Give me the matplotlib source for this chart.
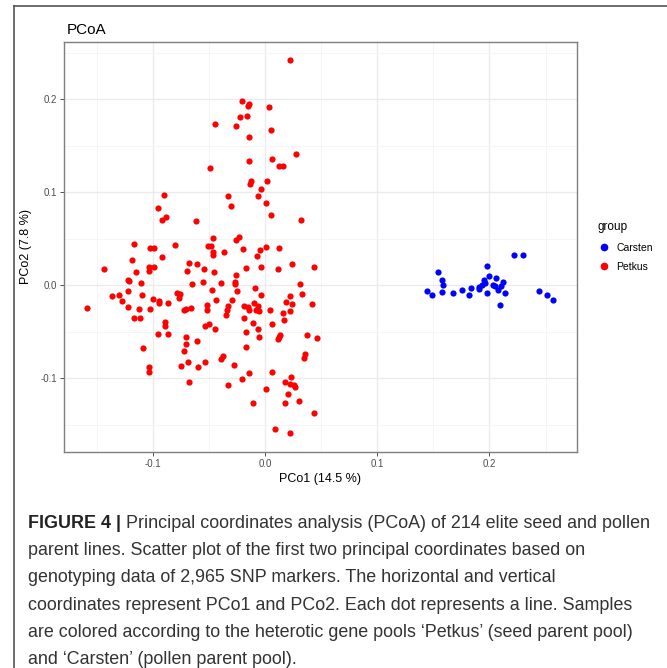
import numpy as np
import matplotlib.pyplot as plt
from matplotlib.lines import Line2D

plt.rcParams['font.family'] = ['Liberation Sans', 'DejaVu Sans']

# Координаты (PCo1, PCo2)
carsten_x = [0.1440, 0.1490, 0.1543, 0.1579, 0.1585, 0.1579, 0.1672, 0.1752, 0.1814, 0.1832,
             0.1904, 0.1909, 0.1933, 0.1951, 0.1957, 0.1975, 0.1993, 0.1980, 0.2028, 0.2046,
             0.2057, 0.2075, 0.2090, 0.2104, 0.2122, 0.2140, 0.2217, 0.2295, 0.2440, 0.2511,
             0.2562]
carsten_y = [-0.0058, -0.0108, 0.0140, 0.0057, 0.0000, -0.0069, -0.0083, -0.0051, -0.0108, -0.0032,
             -0.0043, -0.0015, 0.0003, 0.0057, 0.0022, 0.0208, 0.0103, -0.0081, 0.0003, -0.0008,
             0.0075, -0.0051, -0.0212, -0.0008, 0.0039, -0.0086, 0.0322, 0.0322, -0.0065, -0.0101,
             -0.0161]

petkus_x = [0.0223, -0.0202, -0.0139, -0.0148, 0.0036, -0.0226, -0.0163, -0.0442, -0.0261, 0.0056,
            -0.0145, 0.0273, 0.0059, -0.0139, -0.0493, 0.0128, 0.0157, -0.0125, 0.0018, -0.0137,
            -0.0036, -0.0899, -0.0329, -0.0062, -0.0306, 0.0009, -0.0950, -0.0882, -0.0920, 0.0050,
            -0.0617, 0.0324,
            -0.0466, -0.0255, -0.0232, -0.1169, -0.1024, -0.0985, -0.0798, -0.0510, -0.0481, 0.0009,
            0.0125, -0.0920, -0.1181, -0.0466, -0.0463, -0.0362, -0.0193, -0.0042, -0.0068, -0.1431,
            -0.1033, -0.0985, -0.1036, -0.1146, -0.0677, -0.0608, -0.0692, -0.0546, -0.0454, -0.0172,
            -0.0255, -0.0036, 0.0116, 0.0240, 0.0433, -0.1223, -0.1211, -0.1107, -0.0653, -0.0555,
            -0.0389, -0.0264, -0.0267, 0.0312, -0.1365, -0.1297, -0.1217, -0.1098, -0.1270, -0.1217,
            -0.1000, -0.0944, -0.0947, -0.0861, -0.0781, -0.0754, -0.0763, -0.0469, -0.0252, -0.0092,
            -0.0033, 0.0329, 0.0220, 0.0184, 0.0240, 0.0418, -0.1585, -0.1169, -0.1116, -0.1122,
            -0.1021, -0.0887, -0.0887, -0.0950, -0.0861, -0.0721, -0.0700, -0.0656, -0.0519, -0.0516,
            -0.0436, -0.0332, -0.0341, -0.0344, -0.0297, -0.0187, -0.0154, -0.0095, -0.0059, -0.0050,
            -0.0077, -0.0145, 0.0042, 0.0163, 0.0220, -0.0190, -0.0531, -0.0502, -0.0445, -0.0110,
            -0.0166, -0.0062, -0.0056, 0.0059, 0.0169, 0.0116, 0.0128, 0.0137, 0.0374, 0.0460,
            -0.1089, -0.0706, -0.0706, -0.0724, -0.0603, -0.0377, -0.0395, -0.0172, -0.1030, -0.1030,
            -0.0751, -0.0683, -0.0594, -0.0531, -0.0680, -0.0279, -0.0202, -0.0139, 0.0065, -0.0332,
            0.0012, -0.0110, 0.0175, 0.0234, 0.0226, 0.0261, 0.0264, 0.0202, 0.0175, 0.0303,
            0.0359, 0.0344, 0.0439, 0.0086, 0.0220]
petkus_y = [0.2419, 0.1978, 0.1950, 0.1925, 0.1917, 0.1806, 0.1817, 0.1735, 0.1713, 0.1670,
            0.1591, 0.1412, 0.1358, 0.1333, 0.1265, 0.1279, 0.1279, 0.1125, 0.1122, 0.1090,
            0.1039, 0.0968, 0.0960, 0.0957, 0.0857, 0.0882, 0.0832, 0.0738, 0.0702, 0.0753,
            0.0688, 0.0702,
            0.0513, 0.0487, 0.0516, 0.0441, 0.0401, 0.0401, 0.0430, 0.0426, 0.0426, 0.0412,
            0.0401, 0.0301, 0.0272, 0.0355, 0.0330, 0.0362, 0.0387, 0.0383, 0.0319, 0.0179,
            0.0201, 0.0194, 0.0158, 0.0140, 0.0237, 0.0233, 0.0151, 0.0172, 0.0147, 0.0186,
            0.0111, 0.0194, 0.0176, 0.0233, 0.0197, 0.0061, 0.0047, 0.0029, 0.0014, 0.0039,
            0.0022, 0.0032, 0.0011, 0.0018, -0.0111, -0.0100, -0.0065, -0.0104, -0.0172, -0.0229,
            -0.0143, -0.0168, -0.0186, -0.0186, -0.0079, -0.0093, -0.0140, -0.0050, -0.0065, -0.0032,
            -0.0104, -0.0093, -0.0118, -0.0183, -0.0204, -0.0201, -0.0240, -0.0355, -0.0355, -0.0258,
            -0.0258, -0.0394, -0.0437, -0.0523, -0.0520, -0.0262, -0.0258, -0.0247, -0.0211, -0.0269,
            -0.0158, -0.0226, -0.0262, -0.0319, -0.0158, -0.0226, -0.0237, -0.0194, -0.0222, -0.0272,
            -0.0265, -0.0269, -0.0269, -0.0294, -0.0272, -0.0351, -0.0437, -0.0412, -0.0473, -0.0409,
            -0.0502, -0.0466, -0.0552, -0.0419, -0.0373, -0.0577, -0.0559, -0.0530, -0.0538, -0.0566,
            -0.0670, -0.0556, -0.0634, -0.0706, -0.0595, -0.0756, -0.0796, -0.0659, -0.0875, -0.0928,
            -0.0867, -0.0824, -0.0882, -0.0824, -0.1039, -0.0857, -0.1004, -0.0946, -0.0932, -0.1072,
            -0.1115, -0.1262, -0.1039, -0.0982, -0.1061, -0.1072, -0.1093, -0.1165, -0.1262, -0.1244,
            -0.0742, -0.0778, -0.1366, -0.1541, -0.1588]

ticks = [-0.1, 0.0, 0.1, 0.2]
tick_labels = ['-0.1', '0.0', '0.1', '0.2']

caption_head = 'FIGURE 4 |'
caption_lines = [
    ' Principal coordinates analysis (PCoA) of 214 elite seed and pollen',
    'parent lines. Scatter plot of the first two principal coordinates based on',
    'genotyping data of 2,965 SNP markers. The horizontal and vertical',
    'coordinates represent PCo1 and PCo2. Each dot represents a line. Samples',
    'are colored according to the heterotic gene pools \u2018Petkus\u2019 (seed parent pool)',
    'and \u2018Carsten\u2019 (pollen parent pool).',
]

W, H = 667, 668
fig = plt.figure(figsize=(W / 100, H / 100), dpi=100)
ax = fig.add_axes([64 / W, 1 - 452 / H, (577 - 64) / W, (452 - 42) / H])

ax.scatter(carsten_x, carsten_y, s=20, color='#0000FF', linewidths=0, label='Carsten', zorder=3)
ax.scatter(petkus_x, petkus_y, s=20, color='#FF0000', linewidths=0, label='Petkus', zorder=3)

ax.set_xlim(-0.179, 0.278)
ax.set_ylim(-0.179, 0.2615)
ax.set_xticks(ticks)
ax.set_xticklabels(tick_labels)
ax.set_yticks(ticks)
ax.set_yticklabels(tick_labels)
ax.set_xticks([-0.15, -0.05, 0.05, 0.15, 0.25], minor=True)
ax.set_yticks([-0.15, -0.05, 0.05, 0.15, 0.25], minor=True)
ax.grid(which='major', color='#ebebeb', lw=1.0, zorder=0)
ax.grid(which='minor', color='#f4f4f4', lw=0.6, zorder=0)
ax.set_axisbelow(True)
ax.tick_params(which='major', length=3, width=0.6, color='#333333', labelsize=7,
               labelcolor='#4d4d4d', pad=2)
ax.tick_params(which='minor', length=0)
for sp in ax.spines.values():
    sp.set_color('#7f7f7f')
    sp.set_linewidth(1.0)

ax.set_xlabel('PCo1 (14.5 %)', fontsize=9, labelpad=3)
ax.set_ylabel('PCo2 (7.8 %)', fontsize=9, labelpad=6)
ax.set_title('PCoA', fontsize=11, loc='left', x=0.006, pad=6)

handles = [Line2D([], [], marker='o', ls='', color='#0000FF', markersize=4.5),
           Line2D([], [], marker='o', ls='', color='#FF0000', markersize=4.5)]
leg = fig.legend(handles, ['Carsten', 'Petkus'], title='group', loc='upper left',
                 bbox_to_anchor=(588 / W, 1 - 212 / H), frameon=False, fontsize=7.5,
                 title_fontsize=8.5, handletextpad=0.6, labelspacing=0.9, handlelength=1.2)
leg._legend_box.align = 'left'

# рамка вокруг рисунка
fig.add_artist(Line2D([14 / W, 14 / W], [0, 1 - 6 / H], color='#555555', lw=1.2))
fig.add_artist(Line2D([14 / W, 1], [1 - 6 / H, 1 - 6 / H], color='#555555', lw=1.2))

# подпись
renderer = fig.canvas.get_renderer()
y0 = 1 - 523 / H
step = 27.4 / H
fs = 12.9
head = fig.text(28 / W, y0, caption_head, fontsize=fs, fontweight='bold', color='#222222',
                va='center')
bb = head.get_window_extent(renderer)
fig.text(bb.x1 / W, y0, caption_lines[0], fontsize=fs, color='#333333', va='center')
for i, line in enumerate(caption_lines[1:], start=1):
    fig.text(28 / W, y0 - i * step, line, fontsize=fs, color='#333333', va='center')

fig.savefig('out.png', dpi=100)
